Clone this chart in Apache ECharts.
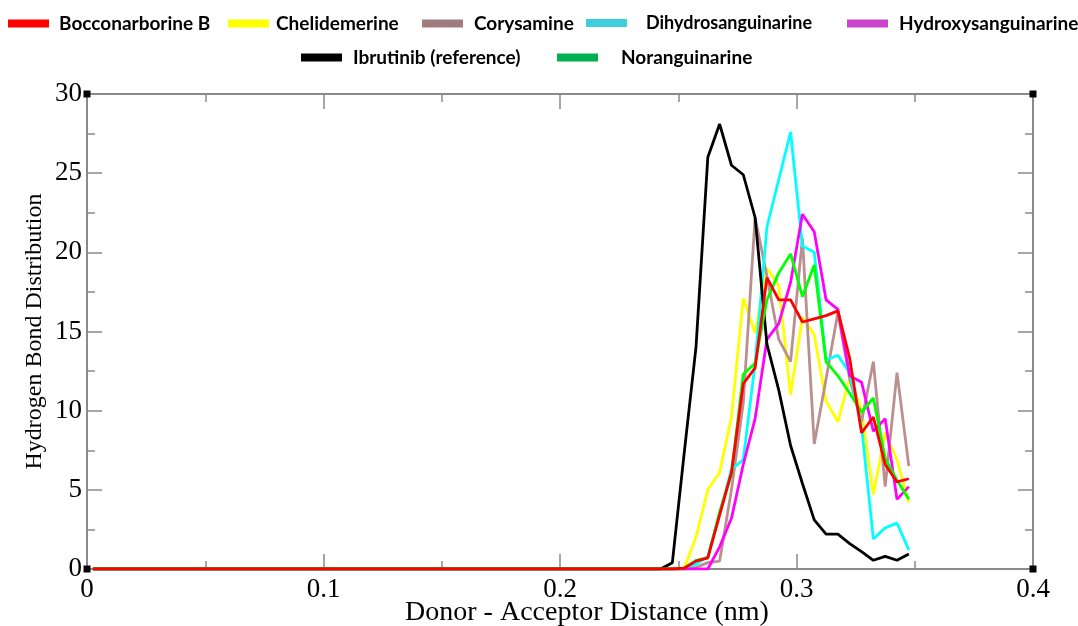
<!DOCTYPE html>
<html>
<head>
<meta charset="utf-8">
<title>Hydrogen Bond Distribution</title>
<script src="https://cdn.jsdelivr.net/npm/echarts@6/dist/echarts.min.js"></script>
<style>
  html, body { margin: 0; padding: 0; background: #fff; }
  #chart { width: 1078px; height: 626px; }
</style>
</head>
<body>
<div id="chart"></div>
<script>
// Bin centres of the donor-acceptor distance histogram (nm)
const distance = [
  0.0025, 0.0075, 0.0125, 0.0175, 0.0225, 0.0275, 0.0325, 0.0375, 0.0425, 0.0475,
  0.0525, 0.0575, 0.0625, 0.0675, 0.0725, 0.0775, 0.0825, 0.0875, 0.0925, 0.0975,
  0.1025, 0.1075, 0.1125, 0.1175, 0.1225, 0.1275, 0.1325, 0.1375, 0.1425, 0.1475,
  0.1525, 0.1575, 0.1625, 0.1675, 0.1725, 0.1775, 0.1825, 0.1875, 0.1925, 0.1975,
  0.2025, 0.2075, 0.2125, 0.2175, 0.2225, 0.2275, 0.2325, 0.2375,
  0.2425, 0.2475, 0.2525, 0.2575, 0.2625, 0.2675, 0.2725, 0.2775, 0.2825, 0.2875,
  0.2925, 0.2975, 0.3025, 0.3075, 0.3125, 0.3175, 0.3225, 0.3275, 0.3325, 0.3375,
  0.3425, 0.3475
];

// Distribution values per compound (one value per bin)
const bocconarborineB = [
  0, 0, 0, 0, 0, 0, 0, 0, 0, 0, 0, 0, 0, 0, 0, 0, 0, 0, 0, 0,
  0, 0, 0, 0, 0, 0, 0, 0, 0, 0, 0, 0, 0, 0, 0, 0, 0, 0, 0, 0,
  0, 0, 0, 0, 0, 0, 0, 0,
  0, 0, 0.05, 0.5, 0.7, 3.4, 6.1, 11.7, 12.7, 18.4,
  17.0, 17.0, 15.6, 15.8, 16.0, 16.3, 13.3, 8.6, 9.6, 6.6,
  5.5, 5.7
];
const chelidemerine = [
  0, 0, 0, 0, 0, 0, 0, 0, 0, 0, 0, 0, 0, 0, 0, 0, 0, 0, 0, 0,
  0, 0, 0, 0, 0, 0, 0, 0, 0, 0, 0, 0, 0, 0, 0, 0, 0, 0, 0, 0,
  0, 0, 0, 0, 0, 0, 0, 0,
  0, 0, 0.05, 2.0, 5.0, 6.1, 9.6, 17.1, 14.9, 19.0,
  17.9, 11.0, 15.9, 14.8, 10.6, 9.3, 12.1, 10.0, 4.7, 8.6,
  6.9, 4.2
];
const corysamine = [
  0, 0, 0, 0, 0, 0, 0, 0, 0, 0, 0, 0, 0, 0, 0, 0, 0, 0, 0, 0,
  0, 0, 0, 0, 0, 0, 0, 0, 0, 0, 0, 0, 0, 0, 0, 0, 0, 0, 0, 0,
  0, 0, 0, 0, 0, 0, 0, 0,
  0, 0, 0, 0.1, 0.4, 0.5, 5.0, 10.5, 22.2, 18.5,
  14.5, 13.1, 20.9, 7.9, 12.0, 16.2, 12.0, 9.3, 13.1, 5.2,
  12.4, 6.5
];
const dihydrosanguinarine = [
  0, 0, 0, 0, 0, 0, 0, 0, 0, 0, 0, 0, 0, 0, 0, 0, 0, 0, 0, 0,
  0, 0, 0, 0, 0, 0, 0, 0, 0, 0, 0, 0, 0, 0, 0, 0, 0, 0, 0, 0,
  0, 0, 0, 0, 0, 0, 0, 0,
  0, 0, 0, 0.3, 0.8, 3.5, 6.3, 6.9, 13.0, 21.6,
  24.6, 27.6, 20.4, 20.0, 13.2, 13.5, 12.4, 9.0, 1.9, 2.6,
  2.9, 1.2
];
const hydroxysanguinarine = [
  0, 0, 0, 0, 0, 0, 0, 0, 0, 0, 0, 0, 0, 0, 0, 0, 0, 0, 0, 0,
  0, 0, 0, 0, 0, 0, 0, 0, 0, 0, 0, 0, 0, 0, 0, 0, 0, 0, 0, 0,
  0, 0, 0, 0, 0, 0, 0, 0,
  0, 0, 0, 0, 0, 1.4, 3.2, 6.6, 9.5, 14.5,
  15.5, 18.1, 22.4, 21.3, 17.0, 16.4, 12.2, 11.8, 8.7, 9.5,
  4.4, 5.2
];
const ibrutinib = [
  0, 0, 0, 0, 0, 0, 0, 0, 0, 0, 0, 0, 0, 0, 0, 0, 0, 0, 0, 0,
  0, 0, 0, 0, 0, 0, 0, 0, 0, 0, 0, 0, 0, 0, 0, 0, 0, 0, 0, 0,
  0, 0, 0, 0, 0, 0, 0, 0,
  0, 0.4, 7.3, 14.0, 26.0, 28.1, 25.5, 24.9, 22.2, 14.2,
  11.3, 7.8, 5.4, 3.1, 2.2, 2.2, 1.6, 1.1, 0.55, 0.8,
  0.55, 0.95
];
const noranguinarine = [
  0, 0, 0, 0, 0, 0, 0, 0, 0, 0, 0, 0, 0, 0, 0, 0, 0, 0, 0, 0,
  0, 0, 0, 0, 0, 0, 0, 0, 0, 0, 0, 0, 0, 0, 0, 0, 0, 0, 0, 0,
  0, 0, 0, 0, 0, 0, 0, 0,
  0, 0, 0.05, 0.55, 0.7, 3.6, 6.0, 12.3, 13.0, 17.0,
  18.7, 19.9, 17.2, 19.2, 13.1, 12.2, 11.1, 9.9, 10.8, 7.0,
  5.6, 4.4
];

const xTicks = [0, 0.1, 0.2, 0.3, 0.4];
const yTicks = [0, 5, 10, 15, 20, 25, 30];

// name, values, line colour, legend swatch colour (drawn in this order, red last/on top)
const compounds = [
  { name: 'Chelidemerine', values: chelidemerine, line: '#FFFF00', swatch: '#FFFF00' },
  { name: 'Corysamine', values: corysamine, line: '#BC8F8F', swatch: '#A07C7E' },
  { name: 'Dihydrosanguinarine', values: dihydrosanguinarine, line: '#00FFFF', swatch: '#3DD0DC' },
  { name: 'Hydroxysanguinarine', values: hydroxysanguinarine, line: '#FF00FF', swatch: '#CC44CC' },
  { name: 'Ibrutinib (reference)', values: ibrutinib, line: '#000000', swatch: '#000000' },
  { name: 'Noranguinarine', values: noranguinarine, line: '#00FF00', swatch: '#00B050' },
  { name: 'Bocconarborine B', values: bocconarborineB, line: '#FF0000', swatch: '#FF0000' }
];

const swatchOf = name => compounds.find(c => c.name === name).swatch;

// legend entries laid out in two rows above the plot
const legendSlots = [
  { name: 'Bocconarborine B', left: 8, top: 14, gap: 5, size: 19 },
  { name: 'Chelidemerine', left: 228, top: 14, gap: 2, size: 19 },
  { name: 'Corysamine', left: 422, top: 14, gap: 6, size: 19 },
  { name: 'Dihydrosanguinarine', left: 586, top: 14, gap: 14, size: 18 },
  { name: 'Hydroxysanguinarine', left: 847, top: 14, gap: 6, size: 19 },
  { name: 'Ibrutinib (reference)', left: 301, top: 48, gap: 6, size: 19 },
  { name: 'Noranguinarine', left: 557, top: 48, gap: 18, size: 19 }
];

const axisGrey = '#8a8a8a';
const serif = '"Liberation Serif", "DejaVu Serif", serif';

const chart = echarts.init(document.getElementById('chart'), null, { renderer: 'canvas' });

const baseX = {
  type: 'value', min: 0, max: 0.4, interval: 0.1,
  axisLine: { show: true, onZero: false, lineStyle: { color: axisGrey, width: 2 } },
  axisTick: { show: true, inside: true, length: 15, lineStyle: { color: axisGrey, width: 1.5 } },
  minorTick: { show: true, splitNumber: 2, length: 8, lineStyle: { color: axisGrey, width: 1.5 } },
  splitLine: { show: false }
};
const baseY = {
  type: 'value', min: 0, max: 30, interval: 5,
  axisLine: { show: true, onZero: false, lineStyle: { color: axisGrey, width: 2 } },
  axisTick: { show: true, inside: true, length: 15, lineStyle: { color: axisGrey, width: 1.5 } },
  minorTick: { show: true, splitNumber: 2, length: 8, lineStyle: { color: axisGrey, width: 1.5 } },
  splitLine: { show: false }
};

chart.setOption({
  animation: false,
  backgroundColor: '#ffffff',
  grid: { left: 87, right: 45, top: 94, bottom: 57, containLabel: false, outerBoundsMode: 'none' },
  legend: legendSlots.map(s => ({
    data: [{ name: s.name, itemStyle: { color: swatchOf(s.name) } }],
    left: s.left,
    top: s.top,
    padding: 0,
    icon: 'rect',
    itemWidth: 41,
    itemHeight: 8,
    selectedMode: false,
    textStyle: {
      fontFamily: 'Lato, "Open Sans", sans-serif',
      fontWeight: 'bold',
      fontSize: s.size,
      color: '#000',
      padding: [0, 0, 0, s.gap]
    }
  })),
  xAxis: [
    Object.assign({}, baseX, {
      position: 'bottom',
      name: 'Donor - Acceptor Distance (nm)',
      nameLocation: 'middle',
      nameGap: 30,
      nameMoveOverlap: false,
      nameTextStyle: { fontFamily: serif, fontSize: 28, color: '#000', padding: [0, 0, 0, 54] },
      axisLabel: {
        fontFamily: serif, fontSize: 27, color: '#000', margin: 7,
        formatter: v => (xTicks.includes(+v.toFixed(1)) ? String(+v.toFixed(1)) : '')
      }
    }),
    Object.assign({}, baseX, { position: 'top', axisLabel: { show: false } })
  ],
  yAxis: [
    Object.assign({}, baseY, {
      position: 'left',
      name: 'Hydrogen Bond Distribution',
      nameLocation: 'middle',
      nameGap: 40,
      nameMoveOverlap: false,
      nameTextStyle: { fontFamily: serif, fontSize: 24, color: '#000' },
      axisLabel: {
        fontFamily: serif, fontSize: 27, color: '#000', margin: 5,
        formatter: v => (yTicks.includes(v) ? String(v) : '')
      }
    }),
    Object.assign({}, baseY, { position: 'right', axisLabel: { show: false } })
  ],
  series: compounds.map(c => ({
    name: c.name,
    type: 'line',
    xAxisIndex: 0,
    yAxisIndex: 0,
    data: distance.map((d, i) => [d, c.values[i]]),
    showSymbol: false,
    symbol: 'none',
    smooth: false,
    lineStyle: { color: c.line, width: 2.8 },
    itemStyle: { color: c.line },
    emphasis: { disabled: true }
  }))
});

// small square markers at the four corners of the frame
function drawCorners() {
  const corners = [[0, 0], [0.4, 0], [0, 30], [0.4, 30]];
  const size = 7;
  chart.setOption({
    graphic: corners.map((c, i) => {
      const p = chart.convertToPixel({ xAxisIndex: 0, yAxisIndex: 0 }, c);
      return {
        id: 'corner' + i,
        type: 'rect',
        shape: { x: p[0] - size / 2, y: p[1] - size / 2, width: size, height: size },
        style: { fill: '#000' },
        z: 100
      };
    })
  });
}
drawCorners();
</script>
</body>
</html>
